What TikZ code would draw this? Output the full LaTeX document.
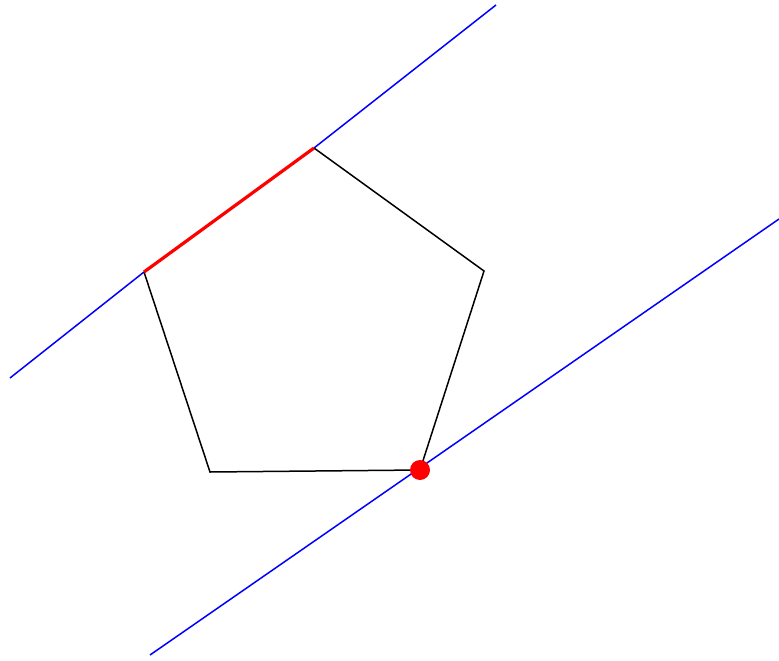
\documentclass[tikz,border=0pt]{standalone}
\begin{document}
\begin{tikzpicture}[x=1pt,y=-1pt,
  blueline/.style={blue,line width=1.5pt},
  edge/.style={black,line width=1.5pt,line join=miter},
  rededge/.style={red,line width=3.2pt}]
\useasboundingbox (0,0) rectangle (779,661);
\coordinate (T) at (314,148);
\coordinate (R) at (484,271);
\coordinate (BR) at (420,470);
\coordinate (BL) at (210,472);
\coordinate (L) at (144,272);
\coordinate (A1) at (10,378);
\coordinate (A2) at (496,5);
\coordinate (B1) at (150,655);
\coordinate (B2) at (779,219);
\draw[blueline] (A1) -- (L);
\draw[blueline] (T) -- (A2);
\draw[blueline] (B1) -- (B2);
\draw[edge] (T) -- (R) -- (BR) -- (BL) -- (L);
\draw[rededge] (L) -- (T);
\fill[red] (BR) circle (10);
\end{tikzpicture}
\end{document}
